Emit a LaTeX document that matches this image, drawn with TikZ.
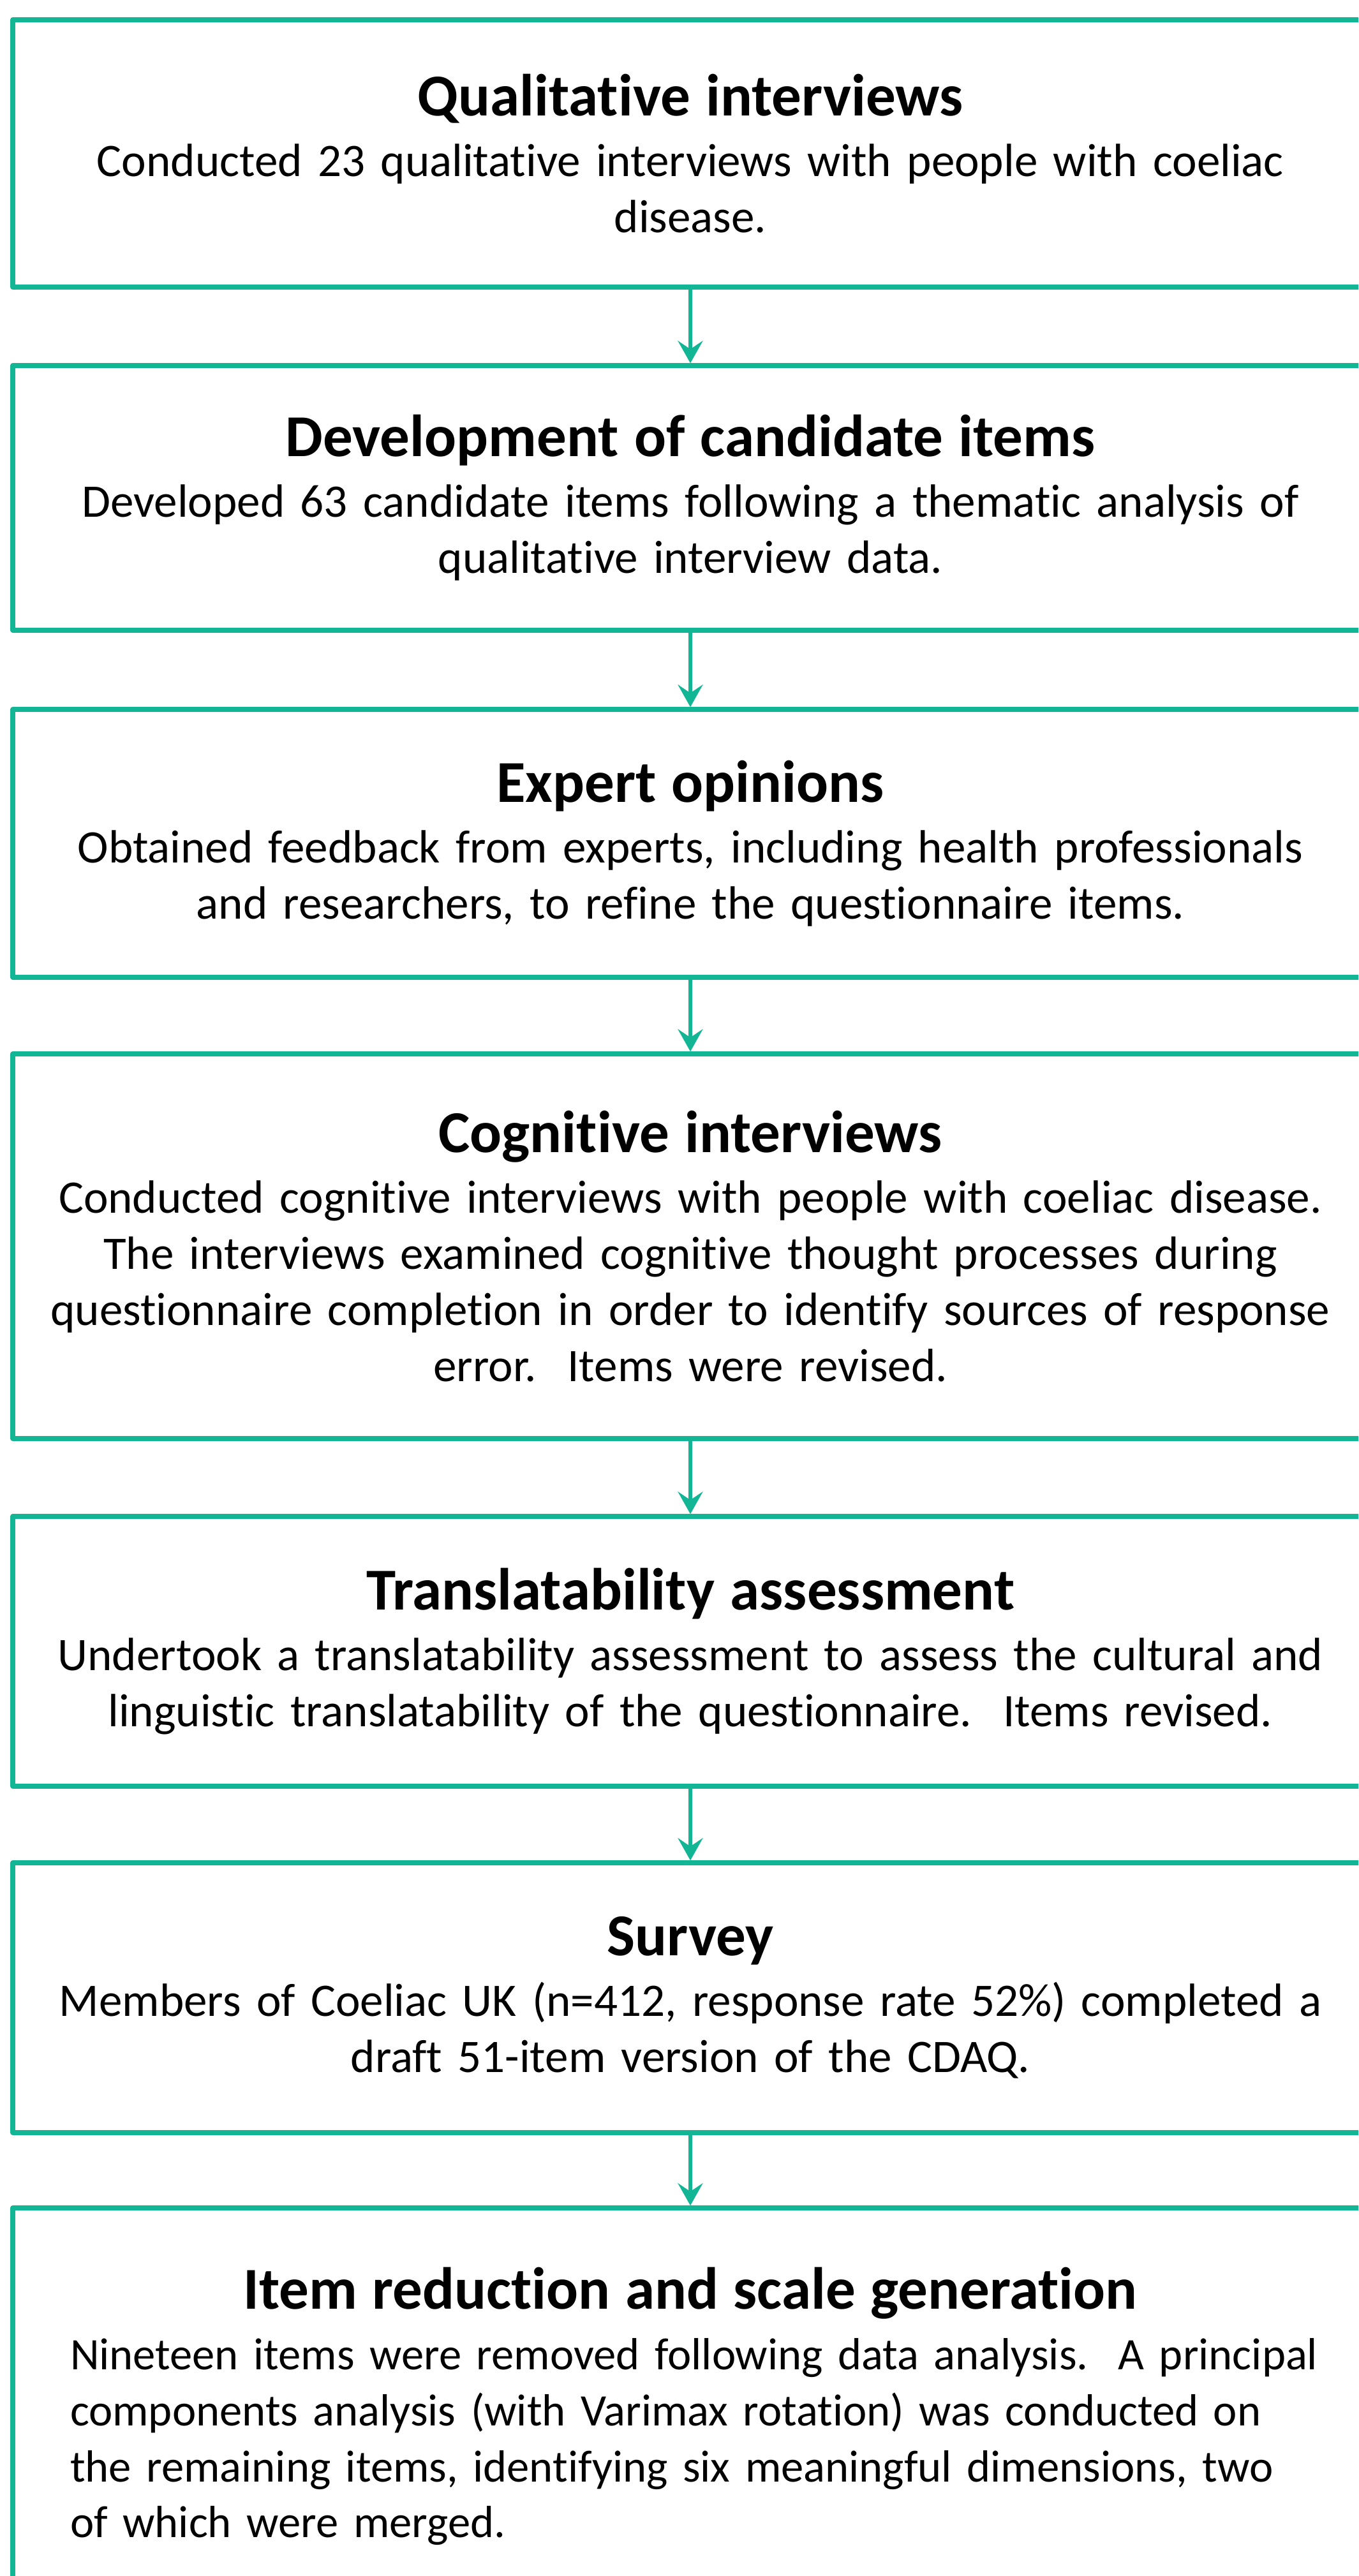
\documentclass[tikz,border=0pt]{standalone}
\usepackage{fontspec}
\setmainfont{Carlito}[Ligatures=NoCommon]
\usetikzlibrary{arrows.meta}

\definecolor{stagegreen}{RGB}{18,181,148}
\newcommand{\stagehead}[1]{{\fontsize{26.5}{30}\selectfont\bfseries #1}\\[2pt]}

\tikzset{
  stagebox/.style={draw=stagegreen, line width=2.1pt, line join=round,
    minimum width=21.24cm, text width=21cm, align=center, inner sep=0pt,
    font=\fontsize{20.8}{25}\selectfont},
  stageflow/.style={draw=stagegreen, line width=1.7pt,
    -{Stealth[length=0.35cm,width=0.39cm,inset=0.13cm]}},
}

\begin{document}
\begin{tikzpicture}
         \useasboundingbox (0,0) rectangle (21.29,-40.38) ;
         \clip (0,0) rectangle (21.29,-40.38) ;
         % the stages, top to bottom
         \node[stagebox, minimum height=4.19cm] (qual) at (10.82,-2.405)
         {\stagehead{Qualitative interviews}Conducted 23 qualitative interviews with people with coeliac\\disease.} ;
         \node[stagebox, minimum height=4.15cm] (cand) at (10.82,-7.805)
         {\stagehead{Development of candidate items}Developed 63 candidate items following a thematic analysis of\\qualitative interview data.} ;
         \node[stagebox, minimum height=4.20cm] (expert) at (10.82,-13.22)
         {\stagehead{Expert opinions}Obtained feedback from experts, including health professionals\\and researchers, to refine the questionnaire items.} ;
         \node[stagebox, minimum height=6.03cm] (cogn) at (10.82,-19.535)
         {\stagehead{Cognitive interviews}Conducted cognitive interviews with people with coeliac disease.\\The interviews examined cognitive thought processes during\\questionnaire completion in order to identify sources of response\\error.\ \ Items were revised.} ;
         \node[stagebox, minimum height=4.23cm] (transl) at (10.82,-25.885)
         {\stagehead{Translatability assessment}Undertook a translatability assessment to assess the cultural and\\linguistic translatability of the questionnaire.\ \ Items revised.} ;
         \node[stagebox, minimum height=4.23cm] (survey) at (10.82,-31.315)
         {\stagehead{Survey}Members of Coeliac UK (n=412, response rate 52\%) completed a\\draft 51-item version of the CDAQ.} ;
         \node[stagebox, minimum height=6.22cm, text width=19.44cm, align=left,
           font=\fontsize{20.1}{25}\selectfont] (reduct) at (10.82,-37.72)
         {\makebox[\linewidth]{\fontsize{26.5}{30}\selectfont\bfseries Item reduction and scale generation}\\[2pt]%
         \mbox{Nineteen items were removed following data analysis.\ \ A principal}\\components analysis (with Varimax rotation) was conducted on\\the remaining items, identifying six meaningful dimensions, two\\of which were merged.} ;
         % arrows between stages
         \draw[stageflow] (qual) -- (cand) ;
         \draw[stageflow] (cand) -- (expert) ;
         \draw[stageflow] (expert) -- (cogn) ;
         \draw[stageflow] (cogn) -- (transl) ;
         \draw[stageflow] (transl) -- (survey) ;
         \draw[stageflow] (survey) -- (reduct) ;
      \end{tikzpicture}
\end{document}
